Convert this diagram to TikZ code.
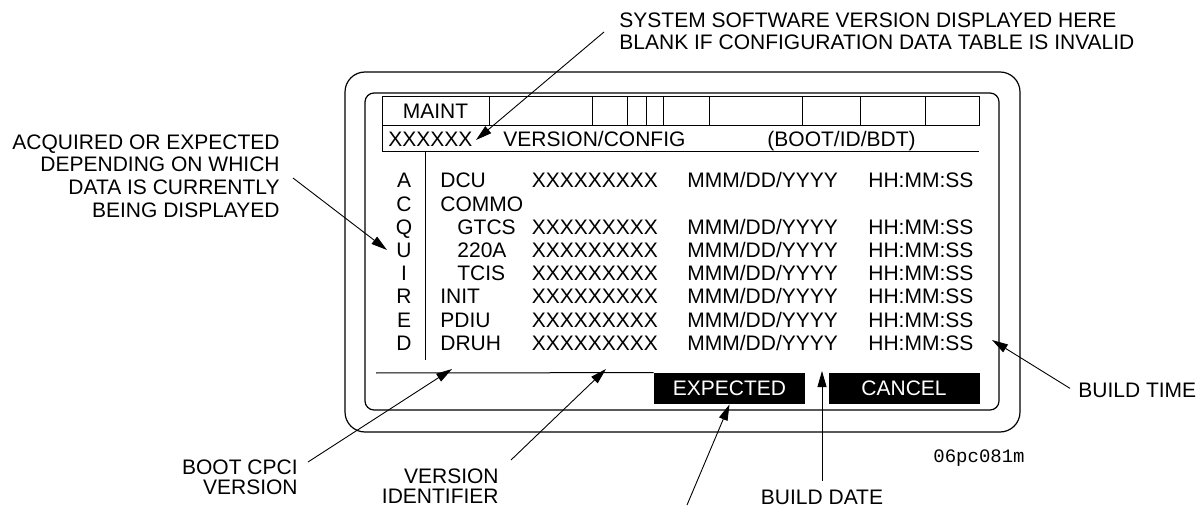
\documentclass[tikz,border=0pt]{standalone}
\usepackage{fontspec}
\setmainfont{Liberation Sans}
\newfontfamily\idfont{Liberation Mono}
\usepackage{tikz}
\usetikzlibrary{arrows.meta}

\begin{document}
\begin{tikzpicture}[x=0.5pt,y=-0.5pt,
    font=\fontsize{10.5pt}{11pt}\selectfont,
    txt/.style={inner sep=0pt},
    note/.style={inner sep=0pt,align=#1},
    leader/.style={-{Triangle[length=8pt,width=4.5pt]},line width=0.45pt},
    softkey/.style={fill=black,text=white,inner sep=0pt,minimum width=75.5pt,minimum height=15.5pt}]
    \useasboundingbox (0,0) rectangle (1203,507);

    \draw[line width=0.6pt,rounded corners=10pt] (345,72) rectangle (1020,432);
    \draw[line width=0.6pt,rounded corners=4.5pt] (365,93) rectangle (999,410);

    \draw[line width=0.5pt] (382,97) rectangle (979,126);
    \draw[line width=0.5pt] (382,126) -- (382,152) -- (979,152);
    \foreach \cx in {489,592,627,646,663,709,802,860,925}
        \draw[line width=0.5pt] (\cx,97) -- (\cx,126);
    \draw[line width=0.5pt] (425,152) -- (425,360);

    \node[txt,anchor=base] (maint) at (435.5,119) {MAINT};
    \node[txt,anchor=base west] (swver) at (388,147) {XXXXXX};
    \node[txt,anchor=base west] (vcfg) at (503,147) {VERSION/CONFIG};
    \node[txt,anchor=base west] (bidb) at (767,147) {(BOOT/ID/BDT)};

    \foreach \i/\lt/\nm/\dx in {1/A/DCU/0,2/C/COMMO/0,3/Q/GTCS/17,4/U/220A/17,
                                5/I/TCIS/17,6/R/INIT/0,7/E/PDIU/0,8/D/DRUH/0} {
        \node[txt,anchor=base] (let\i) at (404,{188+23.2*(\i-1)}) {\lt};
        \node[txt,anchor=base west] (unit\i) at ({440+\dx},{188+23.2*(\i-1)}) {\nm};
    }
    \foreach \i in {1,3,4,5,6,7,8} {
        \node[txt,anchor=base west] (vid\i) at (531.5,{188+23.2*(\i-1)}) {XXXXXXXXX};
        \node[txt,anchor=base west] (bdate\i) at (687,{188+23.2*(\i-1)}) {MMM/DD/YYYY};
        \node[txt,anchor=base west] (btime\i) at (868,{188+23.2*(\i-1)}) {HH:MM:SS};
    }

    \node[softkey] (expkey) at (729.5,388.5) {EXPECTED};
    \node[softkey] (cankey) at (904,388.5) {CANCEL};
    \draw[line width=0.5pt] (376,373) -- (expkey.north west);

    \node[note=left,anchor=west] (swnote) at (619,31)
        {SYSTEM SOFTWARE VERSION DISPLAYED HERE\\BLANK IF CONFIGURATION DATA TABLE IS INVALID};
    \node[note=right,anchor=east,font=\fontsize{10.5pt}{11.35pt}\selectfont] (acqnote) at (280,176)
        {ACQUIRED OR EXPECTED\\DEPENDING ON WHICH\\DATA IS CURRENTLY\hspace*{6pt}\\BEING DISPLAYED};
    \node[note=right,anchor=east,font=\fontsize{10.5pt}{10pt}\selectfont] (bootnote) at (298,477)
        {BOOT CPCI\\VERSION};
    \node[note=right,anchor=east,font=\fontsize{10.5pt}{10pt}\selectfont] (vernote) at (499,486)
        {VERSION\\IDENTIFIER};
    \node[txt,anchor=base] (datenote) at (822,504.5) {BUILD DATE};
    \node[txt,anchor=base west] (timenote) at (1078,397.5) {BUILD TIME};
    \node[txt,anchor=base west,font=\idfont\fontsize{9.5pt}{9.5pt}\selectfont] (figid) at (933,462) {06pc081m};

    \coordinate (swtip) at (476,140);
    \coordinate (acqtip) at (387,250);
    \coordinate (boottip) at (452,369);
    \coordinate (vertip) at (606,369);
    \coordinate (expfoot) at (687,505);
    \coordinate (datetip) at (822,371);
    \coordinate (timetip) at (992,340);

    \draw[leader] ([shift={(-15,1)}]swnote.west) -- (swtip);
    \draw[leader] ([shift={(13,2)}]acqnote.east) -- (acqtip);
    \draw[leader] ([shift={(10,-15)}]bootnote.east) -- (boottip);
    \draw[leader] ([shift={(12,-26)}]vernote.east) -- (vertip);
    \draw[leader] (expfoot) -- (expkey.south);
    \draw[leader] ([shift={(0,-9)}]datenote.north) -- (datetip);
    \draw[leader] ([shift={(-8,-2)}]timenote.west) -- (timetip);
\end{tikzpicture}
\end{document}
